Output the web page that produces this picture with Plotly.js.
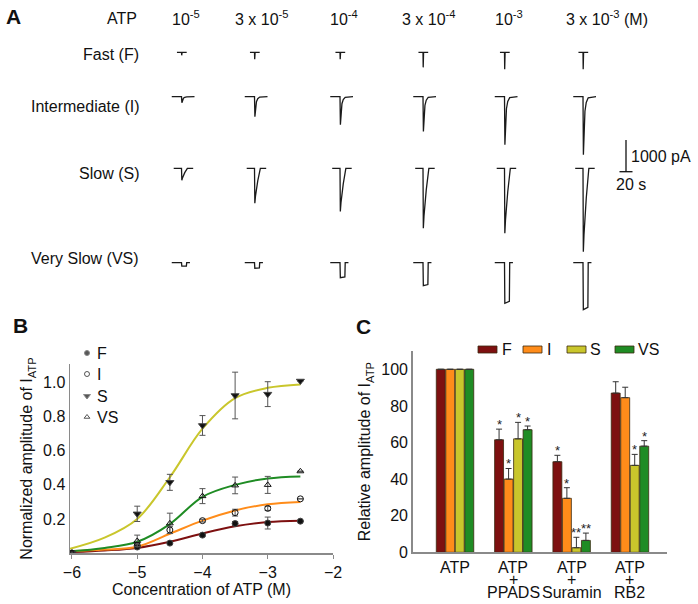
<!DOCTYPE html>
<html><head><meta charset="utf-8">
<script src="https://cdn.plot.ly/plotly-3.0.1.min.js"></script>
<style>html,body{margin:0;padding:0;background:#fff}#chart{width:698px;height:604px}</style>
</head><body><div id="chart"></div>
<script>
// ================= DATA =================
// Panel A: example current traces (peak amplitudes in pA)
const concLabels = ["10<sup>-5</sup>", "3 x 10<sup>-5</sup>", "10<sup>-4</sup>", "3 x 10<sup>-4</sup>", "10<sup>-3</sup>", "3 x 10<sup>-3</sup> (M)"];
const rowNames = ["Fast (F)", "Intermediate (I)", "Slow (S)", "Very Slow (VS)"];
const peakF  = [95, 220, 220, 475, 535, 535];
const peakI  = [190, 630, 885, 1100, 1515, 1830];
const peakS  = [380, 1100, 1360, 1890, 2050, 2630];
const peakVS = [110, 175, 475, 725, 1280, 1480];
// normalized waveform shapes (time s from onset, fraction of peak)
const waveT_F  = [-7, 0, 0.3, 0.9, 8];
const waveY_F  = [0, 0, 1, 0, 0];
const waveT_I  = [-15, 0, 0.6, 1.5, 3, 5, 8, 20];
const waveY_I  = [0, 0, 1, 0.55, 0.25, 0.1, 0.02, 0];
const waveT_S  = [-12, 0, 0.5, 1.5, 5, 7, 9, 18];
const waveY_S  = [0, 0, 1, 0.8, 0.36, 0.12, 0, 0];
const waveT_VS = [-15, 0, 0.5, 7.5, 8, 13];
const waveY_VS = [0, 0, 1, 0.95, 0, 0];
const scaleBarPA = 1000;
const scaleBarS = 20;

// Panel B: concentration-response
const logConc = [-6, -5, -4.5, -4, -3.5, -3, -2.5];
const bF    = [0, 0.035, 0.058, 0.105, 0.173, 0.176, 0.187];
const bFerr = [0, 0.005, 0.006, 0.008, 0.012, 0.035, 0];
const bI    = [0, 0.045, 0.135, 0.19, 0.237, 0.262, 0.318];
const bIerr = [0, 0.01, 0.02, 0.008, 0.02, 0.012, 0];
const bS    = [0, 0.23, 0.415, 0.749, 0.925, 0.933, 1.01];
const bSerr = [0, 0.045, 0.047, 0.058, 0.137, 0.073, 0];
const bVS   = [0, 0.071, 0.174, 0.334, 0.397, 0.40, 0.48];
const bVSerr= [0, 0.034, 0.06, 0.044, 0.049, 0.05, 0];
const fitX  = [-6.03, -5.5, -5, -4.5, -4, -3.5, -3, -2.5];
const fitF  = [0.005, 0.015, 0.03, 0.066, 0.115, 0.157, 0.182, 0.19];
const fitI  = [0.01, 0.02, 0.037, 0.113, 0.19, 0.25, 0.286, 0.30];
const fitS  = [0.025, 0.09, 0.2, 0.445, 0.73, 0.91, 0.97, 0.99];
const fitVS = [0.01, 0.03, 0.066, 0.17, 0.33, 0.40, 0.438, 0.45];
const bTicks = [-6, -5, -4, -3, -2];
const bYTicks = [0.2, 0.4, 0.6, 0.8, 1.0];

// Panel C: relative amplitude with antagonists
const cCats  = ["ATP", "ATP + PPADS", "ATP + Suramin", "ATP + RB2"];
const cLine1 = ["ATP", "ATP", "ATP", "ATP"];
const cLine2 = ["", "+", "+", "+"];
const cLine3 = ["", "PPADS", "Suramin", "RB2"];
const cF    = [100, 61.5, 49.5, 87];
const cFerr = [0, 5.8, 3.5, 6.2];
const cI    = [100, 40, 29.5, 84.5];
const cIerr = [0, 5.8, 5.8, 5.7];
const cS    = [100, 62, 2.5, 47.5];
const cSerr = [0, 9, 5.7, 6];
const cVS   = [100, 67, 6.5, 58];
const cVSerr= [0, 2, 4, 3];
const sigF  = ["", "*", "*", ""];
const sigI  = ["", "*", "*", ""];
const sigS  = ["", "*", "**", "*"];
const sigVS = ["", "*", "**", "*"];
const seriesNames = ["F", "I", "S", "VS"];

// ================= LAYOUT HELPERS =================
const W = 698, H = 604;
const px = x => x / W;
const py = y => 1 - y / H;
const FONT = "Arial, 'Liberation Sans', sans-serif";
const colF = "#7d1010", colI = "#ff8c1a", colS = "#c9c62c", colVS = "#1f8c24";
const seriesColors = [colF, colI, colS, colVS];

// panel A geometry (layout only): overlay axis measured in page pixels
const colPx = [181.5, 254.5, 340, 423, 504.5, 583];
const rowBasePx = [52.3, 96.7, 168.3, 262.7];
const pxPerS = 13 / 20, pxPerPA = 31.7 / 1000;
const xA = p => p / pxPerS;
const yA = p => -p / pxPerPA;

function rowTrace(peaks, wt, wy, r) {
  const xs = [], ys = [];
  peaks.forEach((pk, c) => {
    for (let k = 0; k < wt.length; k++) {
      xs.push(xA(colPx[c]) + wt[k]);
      ys.push(yA(rowBasePx[r]) - wy[k] * pk);
    }
    xs.push(null); ys.push(null);
  });
  return {x: xs, y: ys, xaxis: "x3", yaxis: "y3", mode: "lines", showlegend: false,
          line: {color: "#1a1a1a", width: 1.3}, hoverinfo: "skip"};
}

const traces = [];
traces.push(rowTrace(peakF, waveT_F, waveY_F, 0));
traces.push(rowTrace(peakI, waveT_I, waveY_I, 1));
traces.push(rowTrace(peakS, waveT_S, waveY_S, 2));
traces.push(rowTrace(peakVS, waveT_VS, waveY_VS, 3));
// scale bar
const sbx = xA(626), sby = yA(171.7);
traces.push({x: [sbx - scaleBarS / 2, sbx + scaleBarS / 2, null, sbx, sbx],
             y: [sby, sby, null, sby, sby + scaleBarPA],
             xaxis: "x3", yaxis: "y3", mode: "lines", showlegend: false,
             line: {color: "#111", width: 1.3}, hoverinfo: "skip"});

// Panel B fits
[[fitF, colF], [fitI, colI], [fitS, colS], [fitVS, colVS]].forEach(([fy, col]) => {
  traces.push({x: fitX, y: fy, xaxis: "x", yaxis: "y", mode: "lines", showlegend: false,
               line: {color: col, width: 2, shape: "spline", smoothing: 1}, hoverinfo: "skip"});
});
// Panel B points
const bSets = [
  [bF, bFerr, "F", "circle", 6],
  [bI, bIerr, "I", "circle-open", 6],
  [bS, bSerr, "S", "triangle-down", 7],
  [bVS, bVSerr, "VS", "triangle-up-open", 6]
];
bSets.forEach(([vals, err, nm, sym, sz]) => {
  traces.push({x: logConc, y: vals, xaxis: "x", yaxis: "y", mode: "markers", name: nm, showlegend: false,
               marker: {symbol: sym, size: sz, color: "#111", line: {color: "#444", width: 1}},
               error_y: {type: "data", array: err, visible: true, color: "#555", thickness: 1, width: 3}});
});
// Panel B legend (symbols placed on page-pixel overlay axis)
const legBPy = [353, 374, 396, 417];
traces.push({x: legBPy.map(() => xA(87)), y: legBPy.map(yA), xaxis: "x3", yaxis: "y3",
  mode: "markers", showlegend: false, hoverinfo: "skip",
  marker: {symbol: bSets.map(s => s[3]), size: bSets.map(s => s[4] - 1), color: "#111",
           line: {color: "#555", width: 1}}});

// Panel C bars
const cSets = [[cF, cFerr, colF], [cI, cIerr, colI], [cS, cSerr, colS], [cVS, cVSerr, colVS]];
cSets.forEach(([vals, err, col], j) => {
  traces.push({type: "bar", x: cCats, y: vals, xaxis: "x2", yaxis: "y2", name: seriesNames[j],
               showlegend: false,
               marker: {color: col, line: {color: "#3a2a10", width: 0.8}},
               error_y: {type: "data", symmetric: false, array: err,
                         arrayminus: err.map(() => 0), color: "#333", thickness: 1, width: 3}});
});

// ================= ANNOTATIONS =================
const ann = [];
const txt = (text, x, y, opt = {}) => Object.assign({text, x, y, xref: "paper", yref: "paper",
  xanchor: "center", yanchor: "middle",
  showarrow: false, font: {family: FONT, size: 16, color: "#111"}}, opt);

const big = {family: FONT, size: 21, color: "#111"};
ann.push(txt("<b>A</b>", px(13), py(17), {font: big}));
ann.push(txt("<b>B</b>", px(20), py(325), {font: big}));
ann.push(txt("<b>C</b>", px(364), py(326), {font: big}));
ann.push(txt("ATP", px(122), py(19)));
const headPx = [186, 262, 344, 429, 509, 607];
concLabels.forEach((t, c) => ann.push(txt(t, px(headPx[c]), py(18))));
const rowLabPy = [55, 106, 173, 258];
rowNames.forEach((t, r) => ann.push(txt(t, px(141), py(rowLabPy[r]), {xanchor: "right"})));
ann.push(txt("1000 pA", px(629), py(156), {xanchor: "left"}));
ann.push(txt("20 s", px(614), py(184), {xanchor: "left"}));

// B legend labels
seriesNames.forEach((n, i) => ann.push(txt(n, px(95), py(legBPy[i]), {xanchor: "left"})));

// C legend (swatches + labels)
const legCSwatch = [478, 523, 567, 615];
const legCText = [500, 545, 588, 636];
const shapes = [];
seriesNames.forEach((n, j) => {
  shapes.push({type: "rect", xref: "paper", yref: "paper",
    x0: px(legCSwatch[j]), x1: px(legCSwatch[j] + 19), y0: py(353), y1: py(346),
    fillcolor: seriesColors[j], line: {color: "#3a2a10", width: 0.8}});
  ann.push(txt(n, px(legCText[j]), py(349), {xanchor: "left"}));
});

// C category labels (three lines)
const cLabY = [567.5, 579, 592.5];
[cLine1, cLine2, cLine3].forEach((arr, l) => {
  arr.forEach((t, i) => {
    if (t) ann.push({text: t, x: i, y: py(cLabY[l]), xref: "x2", yref: "paper", showarrow: false,
      xanchor: "center", yanchor: "middle", font: {family: FONT, size: 16, color: "#111"}});
  });
});
// C significance markers
const slot = 0.163;
[sigF, sigI, sigS, sigVS].forEach((sig, j) => {
  sig.forEach((s, i) => {
    if (!s) return;
    const v = cSets[j][0][i] + cSets[j][1][i];
    ann.push({text: s, x: i + (j - 1.5) * slot, y: v, xref: "x2", yref: "y2", showarrow: false,
      xanchor: "center", yanchor: "bottom", yshift: -5, font: {family: FONT, size: 13, color: "#222"}});
  });
});

// ================= LAYOUT =================
const axisCommon = {showline: true, linecolor: "#8a8a8a", linewidth: 1.5, showgrid: false,
  zeroline: false, tickfont: {family: FONT, size: 16, color: "#111"}};

const layout = {
  width: W, height: H, margin: {l: 0, r: 0, t: 0, b: 0},
  paper_bgcolor: "#fff", plot_bgcolor: "rgba(0,0,0,0)",
  font: {family: FONT, color: "#111"},
  barmode: "group", bargap: 0.348, bargroupgap: 0.06,
  showlegend: false,
  xaxis: Object.assign({}, axisCommon, {domain: [px(70), px(333)], range: [-6.03, -2],
    tickvals: bTicks, ticks: "outside", ticklen: 4, tickcolor: "#8a8a8a", anchor: "y",
    title: {text: "Concentration of ATP (M)", font: {family: FONT, size: 16}, standoff: 4}}),
  yaxis: Object.assign({}, axisCommon, {domain: [py(553), py(364)], range: [0, 1.11],
    tickvals: bYTicks, ticktext: bYTicks.map(v => v.toFixed(1)), ticks: "", anchor: "x",
    title: {text: "Normalized amplitude of I<sub>ATP</sub>", font: {family: FONT, size: 16}, standoff: 6}}),
  xaxis2: Object.assign({}, axisCommon, {domain: [px(412.7), px(666.7)], range: [-0.7256, 3.63],
    type: "category", showticklabels: false, ticks: "", anchor: "y2"}),
  yaxis2: Object.assign({}, axisCommon, {domain: [py(552.3), py(351)], range: [0, 110],
    tickvals: [0, 20, 40, 60, 80, 100], ticks: "", anchor: "x2",
    title: {text: "Relative amplitude of I<sub>ATP</sub>", font: {family: FONT, size: 16}, standoff: 6}}),
  xaxis3: {domain: [0, 1], range: [0, W / pxPerS], visible: false, anchor: "y3"},
  yaxis3: {domain: [0, 1], range: [-H / pxPerPA, 0], visible: false, anchor: "x3"},
  annotations: ann,
  shapes: shapes
};

Plotly.newPlot("chart", traces, layout, {staticPlot: true, displayModeBar: false});
</script>
</body></html>
